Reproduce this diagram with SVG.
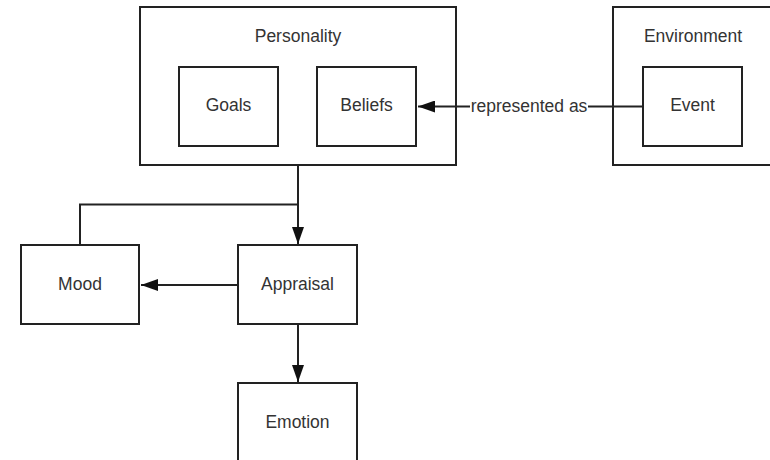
<svg xmlns="http://www.w3.org/2000/svg" width="770" height="460" viewBox="0 0 770 460">
<style>
.box{fill:#fff;stroke:#222;stroke-width:2}
.lbl{font-family:"Liberation Sans",Arial,sans-serif;font-size:17.5px;fill:#333;text-anchor:middle}
.conn{fill:none;stroke:#222;stroke-width:2}
</style>
<defs>
<marker id="ah" markerWidth="17" markerHeight="12" refX="17" refY="6" orient="auto" markerUnits="userSpaceOnUse">
<path d="M0,0 L17,6 L0,12 Z" fill="#111"/>
</marker>
</defs>
<rect width="770" height="460" fill="#fff"/>
<g id="personality">
<rect class="box" x="140" y="7" width="316" height="158"/>
<text class="lbl" x="298" y="42">Personality</text>
</g>
<g id="goals">
<rect class="box" x="179" y="67" width="99" height="79"/>
<text class="lbl" x="228.5" y="111">Goals</text>
</g>
<g id="beliefs">
<rect class="box" x="317" y="67" width="99" height="79"/>
<text class="lbl" x="366.5" y="111">Beliefs</text>
</g>
<g id="environment">
<rect class="box" x="613" y="7" width="170" height="158"/>
<text class="lbl" x="693" y="42">Environment</text>
</g>
<g id="event">
<rect class="box" x="643" y="67" width="99" height="79"/>
<text class="lbl" x="692.5" y="111">Event</text>
</g>
<g id="mood">
<rect class="box" x="21" y="245" width="118" height="79"/>
<text class="lbl" x="80" y="290">Mood</text>
</g>
<g id="appraisal">
<rect class="box" x="238" y="245" width="119" height="79"/>
<text class="lbl" x="297.5" y="290">Appraisal</text>
</g>
<g id="emotion">
<rect class="box" x="238" y="383" width="119" height="90"/>
<text class="lbl" x="297.5" y="428">Emotion</text>
</g>
<g id="connectors">
<path class="conn" d="M643,106.5 L588,106.5"/>
<path class="conn" d="M470,106.5 L418,106.5" marker-end="url(#ah)"/>
<text class="lbl" x="529" y="112">represented as</text>
<path class="conn" d="M298,165 L298,244" marker-end="url(#ah)"/>
<path class="conn" d="M298,204.5 L80,204.5 L80,245"/>
<path class="conn" d="M238,285 L141,285" marker-end="url(#ah)"/>
<path class="conn" d="M298,324 L298,382" marker-end="url(#ah)"/>
</g>
</svg>
